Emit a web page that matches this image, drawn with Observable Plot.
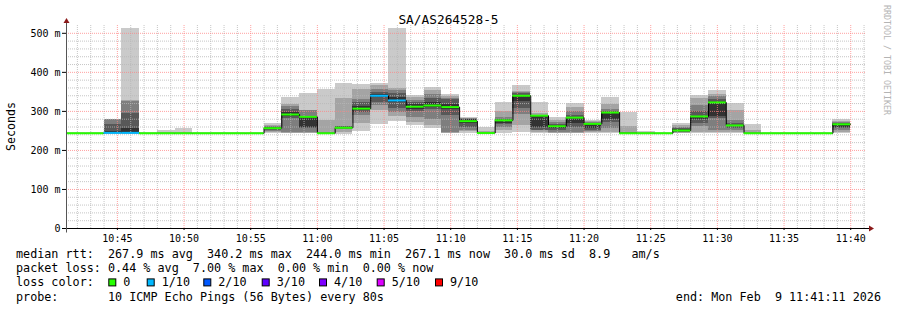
<!DOCTYPE html>
<html><head><meta charset="utf-8">
<script src="https://cdn.jsdelivr.net/npm/d3@7"></script>
<script src="https://cdn.jsdelivr.net/npm/@observablehq/plot@0.6"></script>
<style>
html,body{margin:0;padding:0;background:#fff;}
#wrap{width:897px;height:310px;position:relative;overflow:hidden;background:#fff;}
#wrap svg{display:block;}
svg text{white-space:pre;}
</style></head><body><div id="wrap"></div>
<script>
// ---------- data ----------
const title = "SA/AS264528-5";
const day = "2026-02-09";
const rangeStart = "10:41:11";
const rangeEnd = "11:41:11";
const stepSec = 80;
// RRD bin end timestamps (each bin covers the 80 s before it)
const binEnd = ["10:41:20","10:42:40","10:44:00","10:45:20","10:46:40","10:48:00","10:49:20","10:50:40","10:52:00","10:53:20",
  "10:54:40","10:56:00","10:57:20","10:58:40","11:00:00","11:01:20","11:02:40","11:04:00","11:05:20","11:06:40",
  "11:08:00","11:09:20","11:10:40","11:12:00","11:13:20","11:14:40","11:16:00","11:17:20","11:18:40","11:20:00",
  "11:21:20","11:22:40","11:24:00","11:25:20","11:26:40","11:28:00","11:29:20","11:30:40","11:32:00","11:33:20",
  "11:34:40","11:36:00","11:37:20","11:38:40","11:40:00"];
// median rtt per bin (ms)
const median = [244,244,244,245,245,244,244,244,244,244,
  244,244,257,292,286,244,258,307,340,328,
  312,315,311,275,244.5,277,340,289,262,284,
  268,297,244,244,244,251,287,323,264,244,
  244,244,244,244,267];
// lost pings out of 10 per bin
const lossCount = [0,0,0,1,1,0,0,0,0,0, 0,0,0,0,0,0,0,0,1,1, 0,0,0,0,0,0,0,0,0,0, 0,0,0,0,0,0,0,0,0,0, 0,0,0,0,0];
// the 10 sorted ping rtts per bin (ms), used for the smoke
const pings = [
  [244,244,244,244,244,244,244,244,244,244],
  [244,244,244,244,244,244,244,244,244,244],
  [244,244,244,244,244,244,244,244,244,244],
  [244,244,244,245,246,249,267,279,279,279],
  [244,244.5,245,246,247,256,295,325,328,512],
  [244,244,244,244,244,244,244,244,244,244],
  [244,244,244,244,244,244,244,244,244,252],
  [244,244,244,244,244,244,244,244,244,257],
  [244,244,244,244,244,244,244,244,244,244],
  [244,244,244,244,244,244,244,244,244,244],
  [244,244,244,244,244,244,244,244,244,244],
  [244,244,244,244,244,244,244,244,244,244],
  [244,245,248,252,255,258,260,262,265,270],
  [244,244,245,283,288,298,305,312,318,336],
  [244,244,245,257,260,284,288,302,303,346],
  [244,244,244,244,244,244,244,244,277,356],
  [242,246,254,256,257,259,261,262,332,371],
  [249,268,290,298,303,312,322,330,356,370],
  [267,301,315,324,335,343,349,355,366,372],
  [273,287,297,308,322,335,345,353,359,512],
  [264,272,284,300,306,318,324,328,336,341],
  [255,263,280,304,310,322,333,343,353,360],
  [244,244,245,290,305,318,330,334,338,344],
  [244,248,251,258,268,278,279,281,283,285],
  [244,244,244,244,244,244,244,244,248,258],
  [244,250,258,266,270,276,280,284,300,324],
  [245,264,291,307,325,338,345,348,351,366],
  [244,245,250,251,260,286,288,290,294,324],
  [244,244,246,250,256,263,266,272,277,284],
  [244,244,245,258,270,283,290,300,311,320],
  [244,245,248,252,256,266,270,272,274,277],
  [244,245,255,272,278,294,300,305,318,336],
  [244,244,244,244,244,244,244,246,262,298],
  [244,244,244,244,244,244,244,244,244,249],
  [244,244,244,244,244,244,244,244,244,244],
  [244,244,245,247,249,253,257,260,264,269],
  [244,245,261,270,280,288,300,315,334,341],
  [244,246,250,281,288,322,330,337,343,354],
  [244,245,250,257,261,265,270,277,302,319],
  [244,244,244,244,244,244,244,244,251,266],
  [244,244,244,244,244,244,244,244,244,244],
  [244,244,244,244,244,244,244,244,244,244],
  [244,244,244,244,244,244,244,244,244,244],
  [244,244,244,244,244,244,244,244,244,244],
  [244,246,250,256,260,266,268,272,274,280]
];
const smokeColors = ["#cacaca","#a4a4a4","#7e7e7e","#585858","#323232"];
const lossColors = ["#26ff00","#00b8ff","#0059ff","#5e00ff","#7e00ff","#dd00ff","#ff0000"];
const lossLabels = ["0","1/10","2/10","3/10","4/10","5/10","9/10"];
const yTicks = [0,100,200,300,400,500];
const yMax = 520;
const xTickLabels = ["10:45","10:50","10:55","11:00","11:05","11:10","11:15","11:20","11:25","11:30","11:35","11:40"];
const yLabel = "Seconds";
const line1 = "median rtt:  267.9 ms avg  340.2 ms max  244.0 ms min  267.1 ms now  30.0 ms sd  8.9   am/s";
const line2 = "packet loss: 0.44 % avg  7.00 % max  0.00 % min  0.00 % now";
const line3 = "loss color:";
const line4 = "probe:       10 ICMP Echo Pings (56 Bytes) every 80s";
const endText = "end: Mon Feb  9 11:41:11 2026";
const watermark = "RRDTOOL / TOBI OETIKER";

// ---------- build ----------
const parse = d3.timeParse("%Y-%m-%d %H:%M:%S");
const T = s => parse(day + " " + (s.length === 5 ? s + ":00" : s));
const t0 = T(rangeStart), t1 = T(rangeEnd);
const rows = binEnd.map((e, i) => {
  const x2 = T(e);
  return {x1: new Date(+x2 - stepSec * 1000), x2, med: median[i], loss: lossCount[i], p: pings[i]};
});
const smoke = [];
for (let k = 0; k < 5; k++) {
  for (const r of rows) {
    const lo = r.p[k], hi = r.p[9 - k];
    if (hi > lo) smoke.push({x1: r.x1, x2: r.x2, y1: lo, y2: hi, fill: smokeColors[k]});
  }
}
const stepPts = rows.map(r => ({t: r.x1, v: r.med}));
stepPts.push({t: rows[rows.length - 1].x2, v: rows[rows.length - 1].med});

const xTicks = xTickLabels.map(T);
const minorX = d3.timeMinute.range(t0, t1).filter(d => d.getMinutes() % 5 !== 0);
const majorX = d3.timeMinute.range(t0, t1).filter(d => d.getMinutes() % 5 === 0);
const minorY = d3.range(20, yMax, 20).filter(v => v % 100 !== 0);
const majorY = yTicks.filter(v => v > 0);

const chart = Plot.plot({
  width: 897, height: 245,
  marginLeft: 66, marginRight: 31, marginTop: 25, marginBottom: 17,
  x: {type: "time", domain: [t0, t1]},
  y: {domain: [0, yMax]},
  color: {type: "identity"},
  style: {fontFamily: "DejaVu Sans Mono", fontSize: "10px", background: "#fff", color: "#000", overflow: "visible"},
  marks: [
    Plot.rect(smoke, {x1: "x1", x2: "x2", y1: "y1", y2: "y2", fill: "fill", clip: true, shapeRendering: "crispEdges"}),
    Plot.ruleX(minorX, {stroke: "#b8b8b8", strokeOpacity: 0.8, strokeDasharray: "1,1"}),
    Plot.ruleY(minorY, {stroke: "#b8b8b8", strokeOpacity: 0.8, strokeDasharray: "1,1"}),
    Plot.ruleX(majorX, {stroke: "#ff8080", strokeOpacity: 0.75, strokeDasharray: "1,1"}),
    Plot.ruleY(majorY, {stroke: "#ff8080", strokeOpacity: 0.75, strokeDasharray: "1,1"}),
    Plot.line(stepPts, {x: "t", y: "v", curve: "step-after", stroke: "#000", strokeWidth: 1, clip: true}),
    Plot.ruleY(rows, {y: "med", x1: "x1", x2: "x2", stroke: d => lossColors[d.loss], strokeWidth: 2, clip: true}),
    Plot.axisY({ticks: yTicks, tickFormat: d => d === 0 ? "0" : d + " m", tickSize: 4, tickPadding: 2, label: null, stroke: "#000"}),
    Plot.axisX({ticks: xTicks, tickFormat: d3.timeFormat("%H:%M"), tickSize: 2, tickPadding: 4, label: null, stroke: "#000"})
  ]
});
document.getElementById("wrap").appendChild(chart);

// ---------- decorations (axis lines, arrows, title) ----------
const svg = d3.select(chart);
const xs = chart.scale("x"), ys = chart.scale("y");
const X0 = Math.round(xs.apply(t0)) + 0.5, XR = xs.apply(t1);
const Y0 = Math.round(ys.apply(0)) + 0.5, YT = ys.apply(yMax);
const deco = svg.append("g");
deco.append("line").attr("x1", X0 - 4).attr("x2", XR + 3).attr("y1", Y0).attr("y2", Y0).attr("stroke", "#000");
deco.append("line").attr("x1", X0).attr("x2", X0).attr("y1", Y0 + 4).attr("y2", YT - 2).attr("stroke", "#555");
deco.append("path").attr("d", `M${XR + 3},${Y0 - 3}L${XR + 8},${Y0}L${XR + 3},${Y0 + 3}Z`).attr("fill", "#8b1a1a");
deco.append("path").attr("d", `M${X0 - 3},${YT - 2}L${X0},${YT - 7}L${X0 + 3},${YT - 2}Z`).attr("fill", "#8b1a1a");
deco.append("text").attr("x", 448.5).attr("y", 24).attr("text-anchor", "middle")
  .attr("font-family", "DejaVu Sans Mono").attr("font-size", "12.8px").attr("fill", "#000").text(title);
deco.append("text").attr("transform", `translate(15,${(ys.apply(0) + YT) / 2 + 0}) rotate(-90)`).attr("text-anchor", "middle")
  .attr("font-family", "DejaVu Sans Mono").attr("font-size", "11.6px").attr("fill", "#000").text(yLabel);
deco.append("text").attr("transform", "translate(884,5) rotate(90)").attr("text-anchor", "start")
  .attr("font-family", "DejaVu Sans Mono").attr("font-size", "8.3px").attr("fill", "#b4b4b4").text(watermark);

// ---------- legend block under the plot ----------
const leg = d3.select("#wrap").append("svg").attr("width", 897).attr("height", 65)
  .style("font-family", "DejaVu Sans Mono").style("font-size", "11.76px");
const base = [13, 27.2, 41.4, 55.6];
const lt = (x, y, s, anchor) => leg.append("text").attr("x", x).attr("y", y).attr("text-anchor", anchor || "start")
  .attr("fill", "#000").attr("xml:space", "preserve").text(s);
lt(16, base[0], line1);
lt(16, base[1], line2);
lt(16, base[2], line3);
lt(16, base[3], line4);
lt(881, base[3], endText, "end");
const boxX = [108.3, 146.7, 203.3, 261.7, 319, 376.7, 435];
lossColors.forEach((c, i) => {
  leg.append("rect").attr("x", boxX[i] + 0.5).attr("y", base[2] - 7.5).attr("width", 7).attr("height", 7)
    .attr("fill", c).attr("stroke", "#000").attr("stroke-width", 1);
  lt(boxX[i] + 15, base[2], lossLabels[i]);
});
</script></body></html>
